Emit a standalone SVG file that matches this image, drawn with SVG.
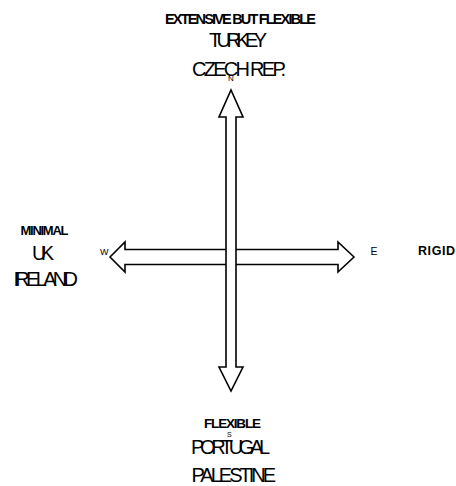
<svg xmlns="http://www.w3.org/2000/svg" width="456" height="486" viewBox="0 0 456 486">
<style>
.arrow{fill:#fff;stroke:#000;stroke-width:1.6;stroke-linejoin:miter}
text{font-family:"Liberation Sans",Arial,sans-serif;fill:#000}
.big{font-size:20px}
.hdr{font-weight:bold}
.dir{font-size:9px}
</style>
<rect width="456" height="486" fill="#fff"/>
<g id="connectors">
<path id="axis-we" class="arrow" d="M110,257 L125,242 L125,249.5 L338,249.5 L338,242 L354,257 L338,272 L338,264.5 L125,264.5 L125,272 Z"/>
<path id="axis-ns" class="arrow" d="M231,90 L243,117 L236,117 L236,367 L243,367 L231,391 L219,367 L226,367 L226,117 L219,117 Z"/>
</g>
<g id="north">
<text class="hdr" x="165" y="23.5" style="font-size:14.5px" textLength="151">EXTENSIVE BUT FLEXIBLE</text>
<text class="big" x="209" y="46.5" textLength="58">TURKEY</text>
<text class="big" x="192" y="75.5" textLength="94">CZECH REP.</text>
<text class="dir" x="228" y="81" style="font-size:8px" textLength="7">N</text>
</g>
<g id="west">
<text class="hdr" x="20.5" y="235" style="font-size:13px" textLength="48">MINIMAL</text>
<text class="big" x="32" y="260" textLength="22">UK</text>
<text class="big" x="13.5" y="286" textLength="64.5">IRELAND</text>
<text class="dir" x="100" y="255" textLength="9">W</text>
</g>
<g id="east">
<text class="dir" x="370.5" y="254.5" style="font-size:10.5px" textLength="7">E</text>
<text class="hdr" x="418" y="254.5" style="font-size:12.5px" textLength="37">RIGID</text>
</g>
<g id="south">
<text class="hdr" x="204" y="427.5" style="font-size:13.5px" textLength="57">FLEXIBLE</text>
<text class="dir" x="227" y="436.5" style="font-size:7px" textLength="5.5">S</text>
<text class="big" x="191" y="453.5" textLength="79">PORTUGAL</text>
<text class="big" x="191.5" y="481.5" textLength="84.5">PALESTINE</text>
</g>
</svg>
